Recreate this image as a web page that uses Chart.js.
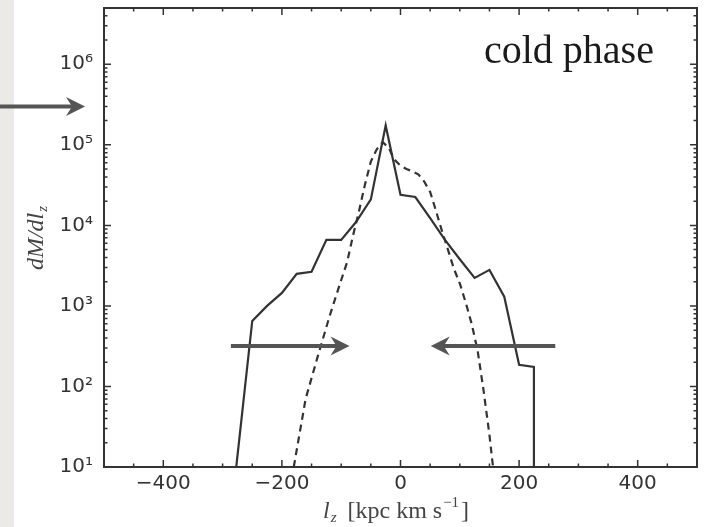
<!DOCTYPE html>
<html><head><meta charset="utf-8">
<script src="https://cdn.jsdelivr.net/npm/chart.js@4/dist/chart.umd.min.js"></script>
<style>
html,body{margin:0;padding:0;background:#fff;}
#wrap{position:relative;width:708px;height:527px;background:linear-gradient(to right,#ebeae7 0,#ebeae7 14px,#ffffff 14px);}
canvas{display:block}
</style></head><body><div id="wrap"><canvas id="c" width="708" height="527"></canvas></div>
<script>
// ---- data ----
const solidX = [-277, -250, -225, -200, -175, -150, -125, -100, -75, -50, -25, 0, 25, 50, 75, 100, 125, 150, 175, 200, 225, 225];
const solidY = [10, 650, 1000, 1450, 2500, 2650, 6600, 6600, 11000, 21000, 174000, 24000, 22500, 12300, 6600, 3800, 2230, 2800, 1300, 186, 175, 1];
const fitX = [-180, -160, -140, -120, -100, -90, -80, -70, -60, -50, -40, -30, -20, -10, 0, 10, 20, 30, 40, 50, 60, 70, 80, 90, 100, 110, 120, 130, 140, 150, 156];
const fitY = [10, 70, 230, 730, 2100, 3500, 7500, 15000, 32000, 62000, 88000, 108000, 92000, 65000, 55000, 50000, 47000, 43000, 35000, 26000, 15000, 8500, 5000, 2900, 1900, 1100, 600, 280, 90, 25, 10];
const xTickValues = [-400, -200, 0, 200, 400];
const xTickLabels = ['\u2212400', '\u2212200', '0', '200', '400'];
const yTickValues = [1e1, 1e2, 1e3, 1e4, 1e5, 1e6];
const yTickLabels = ['10\u00b9', '10\u00b2', '10\u00b3', '10\u2074', '10\u2075', '10\u2076'];
const panelLabel = 'cold phase';
// annotation arrows, in data units (tail -> tip)
const arrowTails = [[-680, 3e5], [-286, 318], [261, 318]];
const arrowTips  = [[-532, 3e5], [-86, 318], [51, 318]];

const INK = '#333333';

const decor = {
  id: 'decor',
  afterDatasetsDraw(chart) {
    const ctx = chart.ctx, a = chart.chartArea, xs = chart.scales.x, ys = chart.scales.y;
    ctx.save();
    // inward ticks on all four sides
    ctx.strokeStyle = INK; ctx.lineWidth = 1.5;
    const tickX = (v, len) => {
      const p = xs.getPixelForValue(v);
      ctx.beginPath();
      ctx.moveTo(p, a.bottom); ctx.lineTo(p, a.bottom - len);
      ctx.moveTo(p, a.top); ctx.lineTo(p, a.top + len);
      ctx.stroke();
    };
    for (let v = -450; v <= 450; v += 50) tickX(v, (v % 200 === 0) ? 7 : 3.5);
    const tickY = (v, len) => {
      const p = ys.getPixelForValue(v);
      ctx.beginPath();
      ctx.moveTo(a.left, p); ctx.lineTo(a.left + len, p);
      ctx.moveTo(a.right, p); ctx.lineTo(a.right - len, p);
      ctx.stroke();
    };
    for (let d = 1; d <= 6; d++) {
      for (let k = 1; k <= 9; k++) {
        const v = k * Math.pow(10, d);
        if (v > ys.max) break;
        if (k === 1 && d === 1) continue;
        tickY(v, k === 1 ? 7 : 3.5);
      }
    }
    // frame
    ctx.lineWidth = 2;
    ctx.strokeRect(a.left, a.top, a.right - a.left, a.bottom - a.top);

    // panel label
    ctx.fillStyle = '#1a1a1a';
    ctx.font = '40px "Liberation Serif"';
    ctx.textBaseline = 'alphabetic';
    ctx.textAlign = 'left';
    ctx.fillText(panelLabel, 484, 63);

    // x title: l_z [kpc km s^-1]
    ctx.fillStyle = '#444';
    let x = 323; const yb = 518;
    ctx.font = 'italic 24px "Liberation Serif"';
    ctx.fillText('l', x, yb); x += ctx.measureText('l').width + 1;
    ctx.font = 'italic 15px "Liberation Serif"';
    ctx.fillText('z', x, yb + 4); x += ctx.measureText('z').width + 11;
    ctx.font = '24px "Liberation Serif"';
    ctx.fillText('[kpc km s', x, yb); x += ctx.measureText('[kpc km s').width + 1;
    ctx.font = '15px "Liberation Serif"';
    ctx.fillText('\u22121', x, yb - 11); x += ctx.measureText('\u22121').width + 2;
    ctx.font = '24px "Liberation Serif"';
    ctx.fillText(']', x, yb);

    // y title: dM/dl_z (rotated)
    ctx.save();
    ctx.translate(43, 238);
    ctx.rotate(-Math.PI / 2);
    const main = 'dM/dl';
    ctx.font = 'italic 15px "Liberation Serif"';
    const zw = ctx.measureText('z').width;
    ctx.font = 'italic 24px "Liberation Serif"';
    const mw = ctx.measureText(main).width;
    let yx = -(mw + zw + 1) / 2;
    ctx.fillText(main, yx, 0);
    ctx.font = 'italic 15px "Liberation Serif"';
    ctx.fillText('z', yx + mw + 1, 4);
    ctx.restore();

    // arrows
    ctx.fillStyle = '#555555'; ctx.strokeStyle = '#555555';
    for (let i = 0; i < arrowTails.length; i++) {
      const x0 = xs.getPixelForValue(arrowTails[i][0]);
      const y0 = ys.getPixelForValue(arrowTails[i][1]);
      const x1 = xs.getPixelForValue(arrowTips[i][0]);
      const y1 = ys.getPixelForValue(arrowTips[i][1]);
      const dir = Math.sign(x1 - x0);
      ctx.lineWidth = 4;
      ctx.beginPath();
      ctx.moveTo(x0, y0); ctx.lineTo(x1 - dir * 12, y1);
      ctx.stroke();
      ctx.beginPath();
      ctx.moveTo(x1, y1);
      ctx.lineTo(x1 - dir * 19, y1 - 9.5);
      ctx.lineTo(x1 - dir * 13, y1);
      ctx.lineTo(x1 - dir * 19, y1 + 9.5);
      ctx.closePath();
      ctx.fill();
    }
    ctx.restore();
  }
};

new Chart(document.getElementById('c'), {
  type: 'line',
  data: {
    datasets: [
      { label: 'simulation', data: solidX.map((v, i) => ({ x: v, y: solidY[i] })),
        borderColor: INK, borderWidth: 2.2, pointRadius: 0, tension: 0, fill: false },
      { label: 'fit', data: fitX.map((v, i) => ({ x: v, y: fitY[i] })),
        borderColor: INK, borderWidth: 2.2, borderDash: [7, 5], pointRadius: 0, tension: 0, fill: false }
    ]
  },
  options: {
    responsive: false, animation: false, devicePixelRatio: 1,
    layout: { padding: { left: 0, right: 11, top: 8, bottom: 0 } },
    plugins: { legend: { display: false }, tooltip: { enabled: false }, title: { display: false } },
    scales: {
      x: {
        type: 'linear', min: -500, max: 500,
        afterBuildTicks: s => { s.ticks = xTickValues.map(v => ({ value: v })); },
        afterFit: s => { s.height = 60; s.paddingLeft = 0; s.paddingRight = 0; },
        grid: { display: false, drawTicks: false },
        border: { display: false },
        ticks: { autoSkip: false, maxRotation: 0, padding: 5, color: INK,
          font: { family: 'DejaVu Sans', size: 20 },
          callback: (v, i) => xTickLabels[i] }
      },
      y: {
        type: 'logarithmic', min: 10, max: 5e6,
        afterBuildTicks: s => { s.ticks = yTickValues.map(v => ({ value: v })); },
        afterFit: s => { s.width = 104; s.paddingTop = 0; s.paddingBottom = 0; },
        grid: { display: false, drawTicks: false },
        border: { display: false },
        ticks: { autoSkip: false, padding: 11, color: INK,
          font: { family: 'DejaVu Sans', size: 20 },
          callback: (v, i) => yTickLabels[i] }
      }
    }
  },
  plugins: [decor]
});
</script>
</body></html>
